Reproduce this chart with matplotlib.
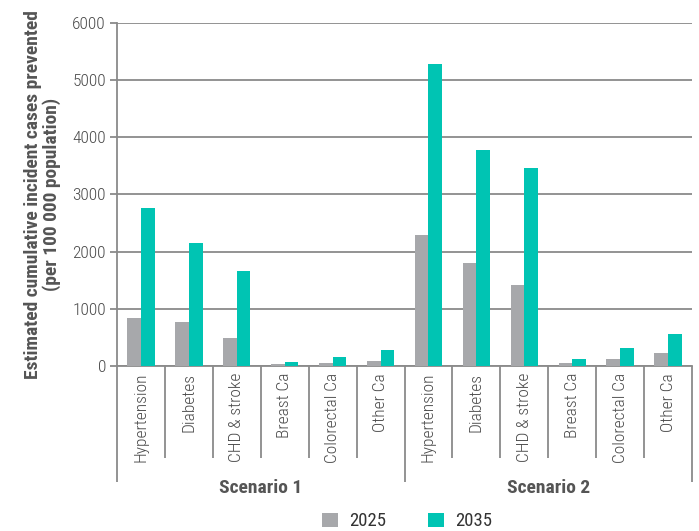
import matplotlib.pyplot as plt
from matplotlib.patches import Patch

# data
categories = ["Hypertension", "Diabetes", "CHD & stroke", "Breast Ca", "Colorectal Ca", "Other Ca"]
scenarios = ["Scenario 1", "Scenario 2"]
vals_2025 = [835, 777, 481, 30, 50, 85,
             2295, 1795, 1411, 58, 117, 222]
vals_2035 = [2770, 2157, 1658, 70, 157, 278,
             5280, 3776, 3456, 128, 309, 560]
years = ["2025", "2035"]

gray = "#a7a8ab"
teal = "#00c4b3"
line_col = "#8a8a8a"
text_col = "#4a4a4a"

plt.rcParams["font.family"] = ["Roboto Condensed", "DejaVu Sans"]

fig = plt.figure(figsize=(6.99, 5.31), dpi=100)
ax = fig.add_axes([117 / 699, 165 / 531, 575 / 699, 343.3 / 531])

n = len(vals_2025)
x = list(range(n))
w = 0.285
ax.bar([i - w / 2 for i in x], vals_2025, width=w, color=gray, zorder=3)
ax.bar([i + w / 2 for i in x], vals_2035, width=w, color=teal, zorder=3)

ax.set_xlim(-0.5, n - 0.5)
ax.set_ylim(0, 6000)
ax.set_yticks(range(0, 6001, 1000))
ax.yaxis.grid(True, color=line_col, linewidth=1.3, zorder=0)
ax.tick_params(axis="y", length=5, width=1.3, color=line_col, labelsize=12.5,
               labelcolor=text_col, pad=3)
for lab in ax.get_yticklabels():
    lab.set_fontweight("light")

for s in ["top", "right"]:
    ax.spines[s].set_visible(False)
for s in ["left", "bottom"]:
    ax.spines[s].set_color(line_col)
    ax.spines[s].set_linewidth(1.3)

# category separators as long ticks, labels on minor ticks
bounds = [i + 0.5 for i in range(n - 1) if i != 5]
ax.set_xticks(bounds)
ax.set_xticklabels([])
ax.tick_params(axis="x", which="major", length=66, width=1.3, color=line_col)
ax.set_xticks(x, minor=True)
ax.set_xticklabels(categories * 2, minor=True, rotation=90, va="top", fontweight="light")
ax.tick_params(axis="x", which="minor", length=0, labelsize=12.5,
               labelcolor=text_col, pad=5)

# group separators
sec = ax.secondary_xaxis("bottom")
sec.set_xticks([-0.5, 5.5, n - 0.5])
sec.set_xticklabels([])
sec.tick_params(axis="x", length=83.5, width=1.3, color=line_col)
sec.spines["bottom"].set_visible(False)

for k, name in enumerate(scenarios):
    ax.text(2.5 + 6 * k, -0.355, name, transform=ax.get_xaxis_transform(),
            ha="center", va="center", fontsize=14, fontweight="bold", color="#555555")

ax.set_ylabel("Estimated cumulative incident cases prevented\n(per 100 000 population)",
              fontsize=14, fontweight="bold", color="#555555", labelpad=8,
              linespacing=1.05)

handles = [Patch(facecolor=gray), Patch(facecolor=teal)]
fig.legend(handles, years, loc="center", bbox_to_anchor=(407 / 699, 9.5 / 531), ncol=2,
           frameon=False, fontsize=13.5, handlelength=0.85, handleheight=0.8,
           columnspacing=2.25, handletextpad=0.6, labelcolor="#333333")

fig.savefig("out.png", dpi=100)
